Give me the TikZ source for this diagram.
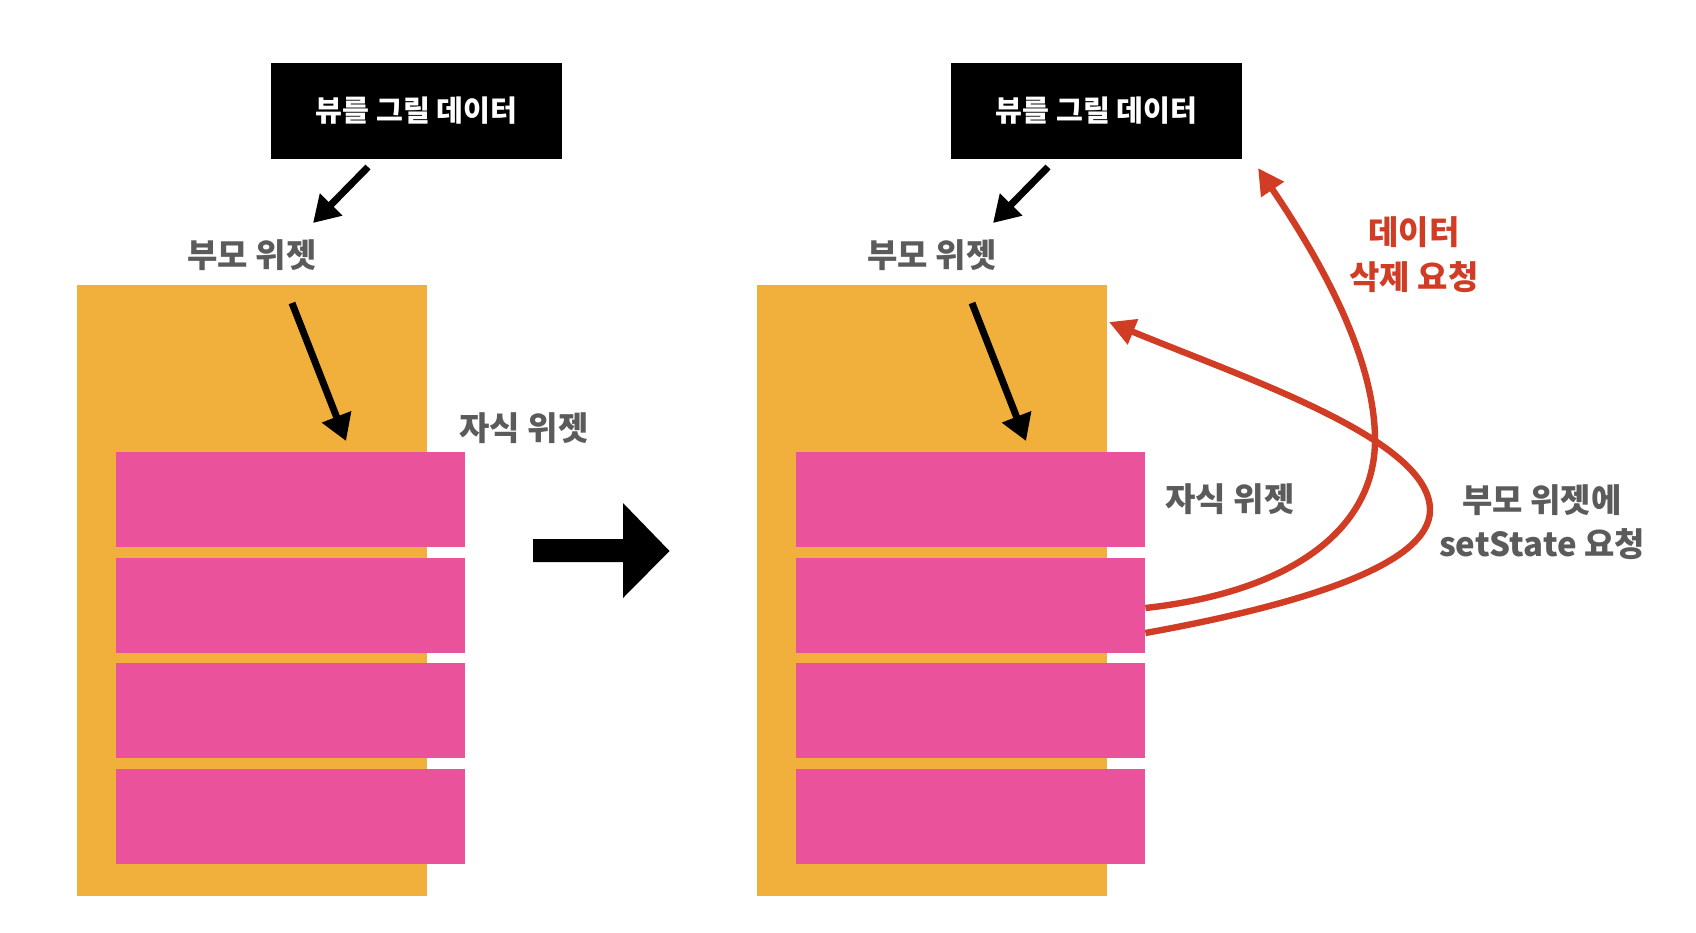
\documentclass[tikz,border=0pt]{standalone}
\usepackage{fontspec}
\newfontfamily\kr{Noto Sans CJK KR}
\usetikzlibrary{arrows.meta}
\definecolor{orangeC}{HTML}{F1B03C}
\definecolor{pinkC}{HTML}{EA539B}
\definecolor{redC}{HTML}{D13C24}
\definecolor{grayC}{HTML}{5B5B5B}
\tikzset{
  parentbox/.style={fill=orangeC, draw=none, inner sep=0pt, minimum width=175pt, minimum height=305.5pt},
  childbox/.style={fill=pinkC, draw=none, inner sep=0pt, minimum width=174.5pt, minimum height=47.5pt},
  databox/.style={fill=black, text=white, inner sep=0pt, minimum width=145.5pt, minimum height=48pt, font=\kr\bfseries\fontsize{14.6}{16}\selectfont},
  graylabel/.style={text=grayC, inner sep=0pt, align=center, font=\kr\bfseries\fontsize{16.5}{22}\selectfont},
  redlabel/.style={text=redC, inner sep=0pt, align=center, font=\kr\bfseries\fontsize{16.5}{22.5}\selectfont},
  blackarrow/.style={draw=black, line width=3.5pt, -{Triangle[length=13pt,width=15pt]}},
  redarrow/.style={draw=redC, line width=3.2pt, -{Triangle[length=13pt,width=13pt]}},
  bigarrow/.style={fill=black, draw=none}
}
\begin{document}
\begin{tikzpicture}[x=0.5pt,y=-0.5pt]
\useasboundingbox[fill=white] (0,0) rectangle (1696,932);
\foreach \p/\dx in {L/0,R/680}{
  \node[databox] (data\p) at (416.5+\dx,111) {뷰를 그릴 데이터};
  \node[graylabel] (plabel\p) at (252+\dx,255) {부모 위젯};
  \node[parentbox] (parent\p) at (252+\dx,590.5) {};
  \node[childbox] (child\p1) at (290.5+\dx,499.5) {};
  \node[childbox] (child\p2) at (290.5+\dx,605) {};
  \node[childbox] (child\p3) at (290.5+\dx,710.5) {};
  \node[childbox] (child\p4) at (290.5+\dx,816.5) {};
  \coordinate (a\p) at (368+\dx,167);
  \coordinate (b\p) at (313+\dx,223);
  \coordinate (c\p) at (292+\dx,303);
  \coordinate (d\p) at (346+\dx,441);
  \draw[blackarrow] (a\p) -- (b\p);
  \draw[blackarrow] (c\p) -- (d\p);
}
\node[graylabel] (clabelL) at (524,428) {자식 위젯};
\node[graylabel] (clabelR) at (1230,499) {자식 위젯};
\node[graylabel] (setlabel) at (1542,522) {부모 위젯에\\setState 요청};
\node[redlabel] (dellabel) at (1414,255) {데이터\\삭제 요청};
% transition arrow
\fill[bigarrow] (533,539) -- (623,539) -- (623,503) -- (669.5,551) -- (623,598) -- (623,562) -- (533,562) -- cycle;
% red connectors
\coordinate (delTip) at (1258,168);
\coordinate (setTip) at (1109,322);
\draw[redarrow] ([yshift=-1.5pt]childR2.east) .. controls (1290,592) and (1375,530) .. (1375,440)
  .. controls (1375,350) and (1310,245) .. (delTip);
\draw[redarrow] ([yshift=-14pt]childR2.east) .. controls (1300,605) and (1430,565) .. (1430,510)
  .. controls (1430,440) and (1250,380) .. (setTip);
\end{tikzpicture}
\end{document}
